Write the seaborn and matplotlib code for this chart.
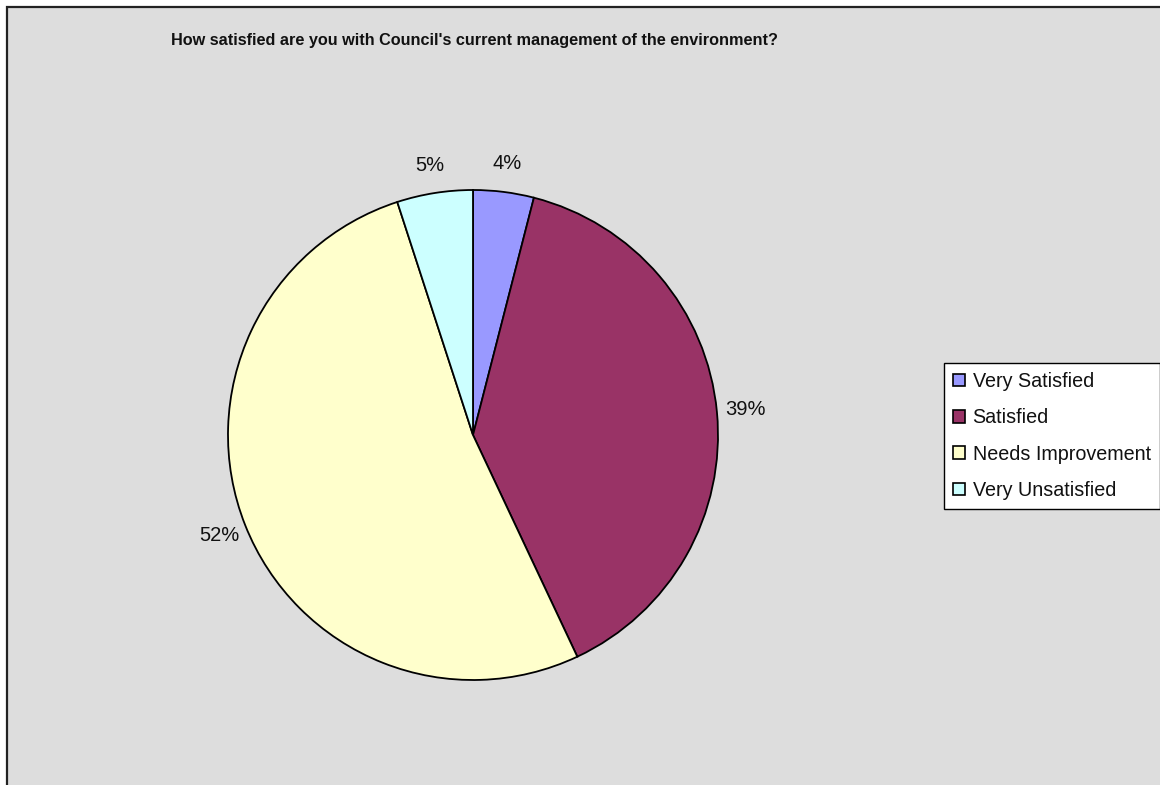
import matplotlib
matplotlib.use("Agg")
import matplotlib.pyplot as plt
from matplotlib.patches import Rectangle, Patch
import seaborn as sns

# Survey responses (percent of respondents)
categories = ["Very Satisfied", "Satisfied", "Needs Improvement", "Very Unsatisfied"]
shares = [4, 39, 52, 5]
slice_colors = ["#9999FF", "#993366", "#FFFFCC", "#CCFFFF"]
title_text = "How satisfied are you with Council's current management of the environment?"

sns.set_theme(style="white")
plt.rcParams["font.family"] = ["Liberation Sans", "DejaVu Sans"]

W, H = 1160, 785
fig = plt.figure(figsize=(W / 100, H / 100), dpi=100)
fig.patch.set_facecolor("white")

# Grey chart area with a dark frame, kept behind everything else
fig.patches.append(Rectangle((7 / W, -0.05), 1.2, 1.05 - 7 / H,
                             transform=fig.transFigure, facecolor="#DDDDDD",
                             edgecolor="#222222", linewidth=1.6, zorder=-10))

# Pie axes: centre (473, 435) px, radius 245 px
cx, cy, r = 473, 435, 245
ax = fig.add_axes([(cx - r) / W, (H - cy - r) / H, 2 * r / W, 2 * r / H])
ax.set_zorder(2)
ax.set_facecolor("none")
wedges, texts = ax.pie(shares, colors=slice_colors, startangle=90,
                       counterclock=False,
                       labels=[f"{v}%" for v in shares], labeldistance=1.115,
                       wedgeprops=dict(edgecolor="black", linewidth=1.3),
                       textprops=dict(fontsize=14.5, color="#111111"))
for t in texts:
    t.set_ha("center")
    t.set_va("center")
ax.set_xlim(-1, 1)
ax.set_ylim(-1, 1)
ax.set_aspect("equal")
ax.axis("off")

fig.text(474 / W, 1 - 41 / H, title_text, ha="center", va="center",
         fontsize=11.7, fontweight="bold", color="#111111", zorder=3)

handles = [Patch(facecolor=c, edgecolor="black", linewidth=1.2) for c in slice_colors]
leg = fig.legend(handles, categories, loc="upper left",
                 bbox_to_anchor=(944 / W, 1 - 363 / H), borderaxespad=0,
                 fontsize=14.2, frameon=True, fancybox=False,
                 handlelength=0.6, handleheight=0.6, handletextpad=0.4,
                 labelspacing=0.88, borderpad=0.45)
leg.set_zorder(3)
frame = leg.get_frame()
frame.set_edgecolor("black")
frame.set_linewidth(1.0)
frame.set_facecolor("white")
frame.set_alpha(1)
for txt in leg.get_texts():
    txt.set_color("#111111")

fig.savefig("out.png", dpi=100)
